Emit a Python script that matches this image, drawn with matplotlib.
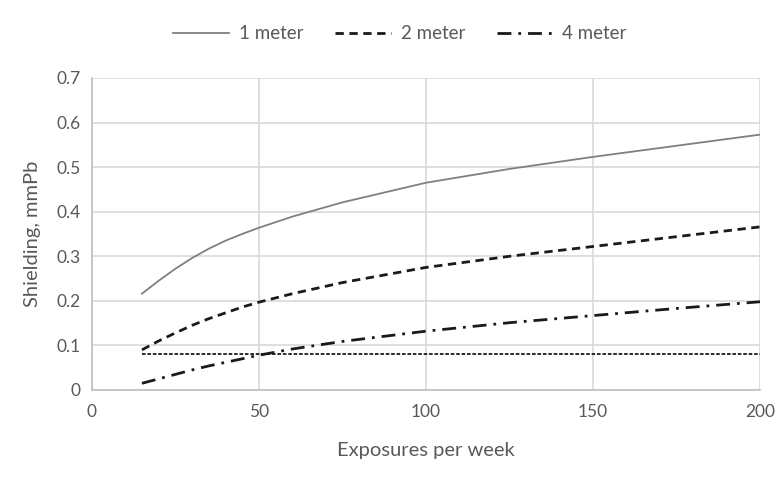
import matplotlib
matplotlib.use("Agg")
import matplotlib.pyplot as plt

x = [15, 20, 25, 30, 35, 40, 45, 50, 60, 75, 100, 125, 150, 175, 200]
one_m = [0.216, 0.245, 0.272, 0.296, 0.317, 0.335, 0.350, 0.364, 0.389, 0.421, 0.465, 0.496, 0.523, 0.548, 0.573]
two_m = [0.09, 0.11, 0.128, 0.145, 0.160, 0.173, 0.186, 0.197, 0.216, 0.241, 0.275, 0.300, 0.322, 0.344, 0.366]
four_m = [0.015, 0.025, 0.035, 0.045, 0.054, 0.062, 0.070, 0.078, 0.092, 0.109, 0.132, 0.151, 0.167, 0.183, 0.198]
limit_x = [15, 200]
limit_y = [0.08, 0.08]

plt.rcParams['font.family'] = ['Lato', 'DejaVu Sans']
txt = '#595959'
fig = plt.figure(figsize=(7.78, 4.8), dpi=100)
ax = fig.add_axes([0.118, 0.1875, 0.859, 0.65])

ax.plot(x, one_m, color='#808080', lw=1.3, label='1 meter')
ax.plot(x, two_m, color='#1a1a1a', lw=2.0, ls=(0, (3, 2)), label='2 meter')
ax.plot(x, four_m, color='#1a1a1a', lw=2.0, ls=(0, (5, 2.5, 1, 2.5)), label='4 meter')
ax.plot(limit_x, limit_y, color='#1a1a1a', lw=1.3, ls=(0, (2, 1)))

ax.set_xlim(0, 200)
ax.set_ylim(0, 0.7)
ax.set_xticks([0, 50, 100, 150, 200])
ax.set_yticks([0, 0.1, 0.2, 0.3, 0.4, 0.5, 0.6, 0.7])
ax.set_yticklabels(['0', '0.1', '0.2', '0.3', '0.4', '0.5', '0.6', '0.7'])
ax.grid(True, color='#d9d9d9', lw=1.2)
ax.set_axisbelow(True)
for s in ['top', 'right']:
    ax.spines[s].set_visible(False)
for s in ['left', 'bottom']:
    ax.spines[s].set_color('#bfbfbf')
    ax.spines[s].set_linewidth(1.2)
ax.tick_params(length=0, colors=txt, labelsize=12.5)
ax.tick_params(axis='y', pad=8)
ax.tick_params(axis='x', pad=10)
ax.set_xlabel('Exposures per week', color=txt, fontsize=14.5, labelpad=16)
ax.set_ylabel('Shielding, mmPb', color=txt, fontsize=14.5, labelpad=11)

leg = fig.legend(loc='center', bbox_to_anchor=(0.514, 0.93), ncol=3, frameon=False,
                 fontsize=13.5, handlelength=3.0, handletextpad=0.5,
                 columnspacing=1.7, labelcolor=txt)

fig.savefig('out.png', dpi=100, facecolor='white')
